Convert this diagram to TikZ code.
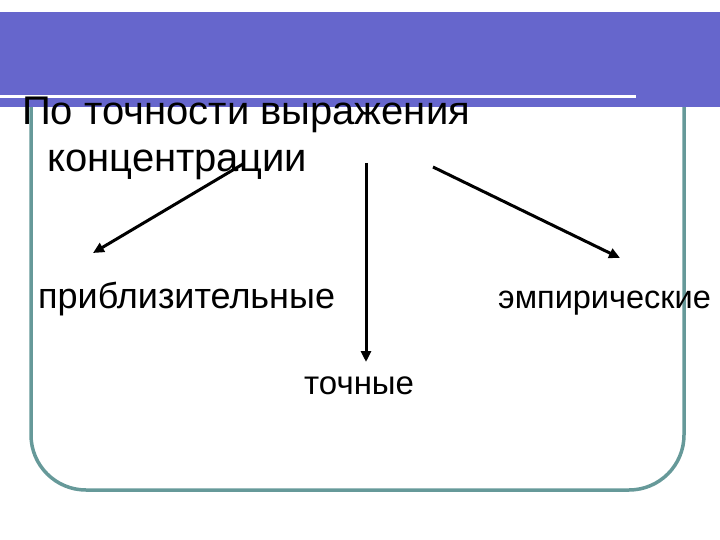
\documentclass[tikz,border=0pt]{standalone}
\usepackage{fontspec}
\setmainfont{Liberation Sans}
\usepackage{xcolor}
\usetikzlibrary{arrows.meta}
\definecolor{bandblue}{RGB}{102,102,204}
\definecolor{frameteal}{RGB}{102,153,153}

\begin{document}
\begin{tikzpicture}[x=1pt,y=-1pt,
  kindlabel/.style={inner sep=0pt,anchor=base west},
  branch/.style={line width=3pt,-{Triangle[length=11pt,width=10pt]}}]
\useasboundingbox (0,0) rectangle (720,540);
% Frame
\draw[frameteal,line width=3.5pt,rounded corners=55pt] (31,40) rectangle (684,490);

% Title band
\fill[bandblue] (0,12) rectangle (720,107);
\fill[white] (0,95) rectangle (636,98);

% Title
\node[kindlabel,font=\fontsize{40}{44}\selectfont] (title1) at (22,125) {По точности выражения};
\node[kindlabel,font=\fontsize{40}{44}\selectfont] (title2) at (47,172) {концентрации};

% Kinds
\node[kindlabel,font=\fontsize{36}{40}\selectfont] (approx) at (38,308) {приблизительные};
\node[kindlabel,font=\fontsize{32.5}{36}\selectfont] (empir) at (498,308) {эмпирические};
\node[kindlabel,font=\fontsize{33}{38}\selectfont] (exact) at (304,394) {точные};

% Arrows
\coordinate (startA) at (243,164);
\coordinate (startB) at (366,163);
\coordinate (startC) at (433,167);
\coordinate (tipA) at (93,253);
\coordinate (tipB) at (366,362);
\coordinate (tipC) at (620,258);
\draw[branch] (startA) -- (tipA);
\draw[branch] (startB) -- (tipB);
\draw[branch] (startC) -- (tipC);
\end{tikzpicture}
\end{document}
